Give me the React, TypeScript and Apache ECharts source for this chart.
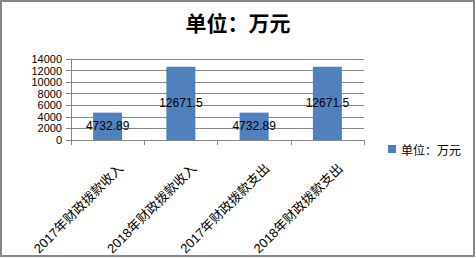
import React, { useEffect, useRef } from "react";
import * as echarts from "echarts";

const categories = [
  "2017年财政拨款收入",
  "2018年财政拨款收入",
  "2017年财政拨款支出",
  "2018年财政拨款支出",
];
const values = [4732.89, 12671.5, 4732.89, 12671.5];
const seriesName = "单位：万元";
const titleText = "单位：万元";
const yMin = 0;
const yMax = 14000;
const yInterval = 2000;

export default function App() {
  const ref = useRef<HTMLDivElement>(null);
  useEffect(() => {
    if (!ref.current) return;
    const chart = echarts.init(ref.current, null, { renderer: "svg" });
    const gray = "#868686";
    chart.setOption({
      animation: false,
      backgroundColor: "#ffffff",
      title: {
        text: titleText,
        left: "center",
        top: 6,
        textStyle: {
          fontFamily: "Noto Sans CJK SC",
          fontSize: 21,
          fontWeight: "bold",
          color: "#000",
        },
      },
      legend: {
        left: 383,
        top: 138,
        icon: "rect",
        itemWidth: 8,
        itemHeight: 8,
        itemGap: 5,
        textStyle: {
          fontFamily: "Noto Sans CJK SC",
          fontSize: 12,
          color: "#000",
        },
        data: [seriesName],
      },
      graphic: [
        {
          type: "rect",
          shape: { x: 1, y: 1, width: 473, height: 255 },
          style: { fill: "none", stroke: gray, lineWidth: 2 },
          silent: true,
          z: 100,
        },
      ],
      grid: { left: 71, top: 59, width: 293, height: 81 },
      xAxis: {
        type: "category",
        data: categories,
        axisLine: { show: true, lineStyle: { color: gray, width: 1 } },
        axisTick: { show: true, length: 5, lineStyle: { color: gray } },
        axisLabel: {
          rotate: 45,
          margin: 13,
          interval: 0,
          verticalAlign: "top",
          padding: [12, 0, 0, 0],
          fontFamily: "Liberation Sans, Noto Sans CJK SC",
          fontSize: 13,
          color: "#000",
        },
      },
      yAxis: {
        type: "value",
        min: yMin,
        max: yMax,
        interval: yInterval,
        axisLine: { show: true, lineStyle: { color: gray, width: 1 } },
        axisTick: { show: true, length: 5, lineStyle: { color: gray } },
        splitLine: { show: true, lineStyle: { color: gray, width: 1 } },
        axisLabel: {
          margin: 9,
          showMinLabel: true,
          showMaxLabel: true,
          hideOverlap: false,
          formatter: (v: number) => String(v),
          fontFamily: "Liberation Sans",
          fontSize: 11,
          lineHeight: 11,
          color: "#000",
        },
      },
      series: [
        {
          name: seriesName,
          type: "bar",
          data: values,
          barWidth: 29,
          itemStyle: { color: "#4F81BD" },
          label: {
            show: true,
            position: "inside",
            fontFamily: "Liberation Sans",
            fontSize: 12,
            color: "#000",
          },
        },
      ],
    });
    return () => chart.dispose();
  }, []);
  return (
    <div
      ref={ref}
      style={{ position: "absolute", left: 0, top: 0, width: 476, height: 258 }}
    />
  );
}
